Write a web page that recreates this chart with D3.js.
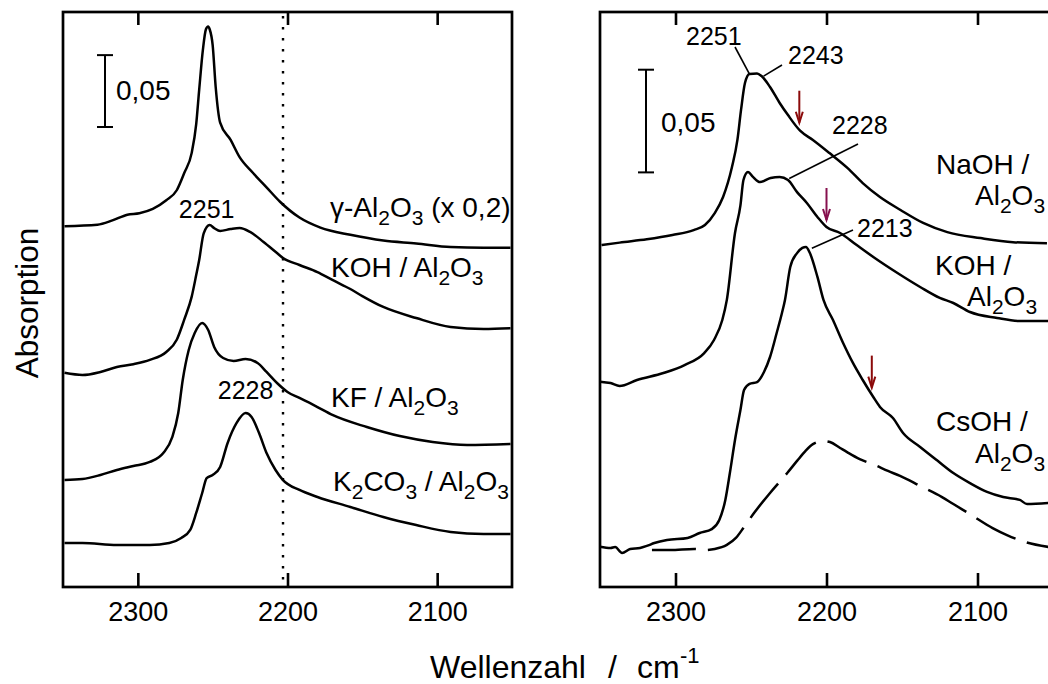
<!DOCTYPE html>
<html>
<head>
<meta charset="utf-8">
<script src="https://cdn.jsdelivr.net/npm/d3@7"></script>
<style>
  body { margin: 0; background: #fff; }
  text { font-family: "Liberation Sans", Arial, Helvetica, sans-serif; fill: #000; }
</style>
</head>
<body>
<svg id="chart" width="1048" height="684"></svg>
<script>
// Wavenumber axis (cm^-1), shared by both panels
const wavenumberDomain = [2350, 2050];
const tickValues = [2300, 2200, 2100];
const tickLabels = ["2300", "2200", "2100"];

// ---- Left panel: CO adsorbed on K-modified Al2O3, stacked spectra [wavenumber, absorbance]
const gammaAl2O3 = [
  [2349, 0.251], [2327, 0.252], [2317, 0.255], [2307, 0.259], [2299, 0.260], [2290, 0.263],
  [2281, 0.269], [2274, 0.276], [2269, 0.288], [2264, 0.302], [2261, 0.322], [2259, 0.346],
  [2256.5, 0.374], [2254.5, 0.388], [2253, 0.390], [2252, 0.388], [2250, 0.377], [2248, 0.348],
  [2245, 0.323], [2238, 0.311], [2232, 0.299], [2223, 0.288], [2214, 0.278], [2205, 0.268],
  [2192, 0.257], [2178, 0.250], [2158, 0.245], [2136, 0.241], [2114, 0.239], [2091, 0.2365],
  [2069, 0.236], [2051, 0.236]
];
const kohLeft = [
  [2349, 0.149], [2337, 0.1475], [2325, 0.1496], [2314, 0.153], [2303, 0.155], [2292, 0.158],
  [2281, 0.1635], [2274, 0.172], [2269, 0.186], [2264, 0.202], [2261, 0.217], [2259, 0.2275],
  [2256, 0.246], [2252, 0.2518], [2249, 0.2497], [2245, 0.2477], [2238, 0.249], [2232, 0.2497],
  [2225, 0.247], [2216, 0.240], [2207, 0.2323], [2203, 0.2289], [2192, 0.224], [2180, 0.2191],
  [2170, 0.2136], [2158, 0.2073], [2150, 0.2024], [2136, 0.1948], [2114, 0.1871], [2091, 0.1809],
  [2069, 0.1795], [2051, 0.180]
];
const kfAl2O3 = [
  [2349, 0.0744], [2337, 0.0751], [2325, 0.0779], [2314, 0.0814], [2303, 0.0842], [2292, 0.087],
  [2283, 0.0932], [2277, 0.1043], [2273, 0.121], [2270, 0.144], [2266, 0.1649], [2262, 0.1767],
  [2257, 0.1837], [2253, 0.1788], [2249, 0.167], [2243, 0.1593], [2236, 0.1572], [2228, 0.1586],
  [2220, 0.1558], [2214, 0.1496], [2207, 0.1419], [2200, 0.1357], [2192, 0.1315], [2180, 0.1252],
  [2170, 0.1197], [2147, 0.1113], [2125, 0.105], [2103, 0.1009], [2080, 0.0988], [2051, 0.0995]
];
const k2co3Al2O3 = [
  [2349, 0.0306], [2337, 0.0306], [2314, 0.0292], [2292, 0.0292], [2279, 0.0306], [2271, 0.0341],
  [2265, 0.0397], [2261, 0.0515], [2257, 0.0654], [2254, 0.0758], [2250, 0.0779], [2245, 0.0835],
  [2240, 0.1002], [2234, 0.1141], [2228, 0.121], [2224, 0.1183], [2219, 0.1071], [2214, 0.0932],
  [2208, 0.0814], [2203, 0.0744], [2192, 0.0675], [2180, 0.0626], [2158, 0.0557], [2136, 0.0487],
  [2114, 0.0431], [2091, 0.0383], [2069, 0.0369], [2051, 0.0369]
];

// ---- Right panel: CO on alkali hydroxide / Al2O3 [wavenumber, absorbance]
const naohAl2O3 = [
  [2349, 0.1665], [2337, 0.1677], [2319, 0.1693], [2302, 0.1714], [2288, 0.1738], [2280.5, 0.1763],
  [2274, 0.1821], [2268.5, 0.1899], [2262.6, 0.2045], [2259, 0.2177], [2256.6, 0.2323], [2254, 0.2454],
  [2251, 0.2498], [2246, 0.2501], [2243, 0.2488], [2237.4, 0.2435], [2231, 0.2357], [2225.5, 0.2298],
  [2217.5, 0.2222], [2209, 0.2177], [2198, 0.2113], [2186, 0.204], [2176, 0.1967], [2164.6, 0.1899],
  [2151, 0.1836], [2136, 0.1773], [2120, 0.1728], [2098, 0.1699], [2076.5, 0.1679], [2054, 0.1674]
];
const kohRight = [
  [2350, 0.100], [2343, 0.0993], [2337, 0.0979], [2325.5, 0.1008], [2308, 0.1042], [2294, 0.1081],
  [2281, 0.1139], [2274.5, 0.1203], [2269, 0.130], [2266, 0.1398], [2260.6, 0.1724], [2257, 0.1858],
  [2255, 0.1982], [2252, 0.2021], [2248.7, 0.1997], [2244, 0.1972], [2237, 0.1992], [2231, 0.1997],
  [2225.5, 0.1982], [2219.5, 0.1923], [2213, 0.187], [2206, 0.1802], [2200, 0.1753], [2191, 0.1724],
  [2180, 0.1665], [2169, 0.1607], [2153, 0.1529], [2138, 0.1461], [2125, 0.1408], [2116, 0.1383],
  [2105, 0.1339], [2087, 0.131], [2072, 0.1295], [2053, 0.1295]
];
const csohAl2O3 = [
  [2350, 0.0196], [2343, 0.019], [2340, 0.0195], [2335.4, 0.0166], [2330, 0.0185], [2323.5, 0.019],
  [2319, 0.020], [2314, 0.0214], [2305.6, 0.0229], [2292, 0.0239], [2284, 0.0263], [2276, 0.0282],
  [2271, 0.0326], [2267, 0.0424], [2264, 0.0555], [2260.6, 0.0716], [2257, 0.0862], [2254.6, 0.0959],
  [2251, 0.0989], [2246, 0.0998], [2241.4, 0.1047], [2237.4, 0.112], [2233, 0.1237], [2229.5, 0.1334],
  [2227.5, 0.1398], [2224, 0.1558], [2219.5, 0.1626], [2216, 0.1651], [2213.6, 0.1656], [2211, 0.1626],
  [2206, 0.151], [2202, 0.1398], [2195.7, 0.130], [2189, 0.1188], [2182.5, 0.1091], [2176, 0.1008],
  [2169, 0.0925], [2164.6, 0.0877], [2156, 0.0823], [2149.3, 0.075], [2138, 0.0682], [2127, 0.0618],
  [2116, 0.0555], [2105, 0.0506], [2093.7, 0.0463], [2083, 0.0438], [2072, 0.0424], [2067.2, 0.0404],
  [2053, 0.0409]
];
const referenceDashed = [
  [2315.6, 0.018], [2303.6, 0.018], [2287.7, 0.0185], [2280.5, 0.018], [2274, 0.0185], [2266, 0.0205],
  [2260, 0.0239], [2254.6, 0.0292], [2248, 0.036], [2237.4, 0.0458], [2226, 0.0555], [2219.5, 0.0614],
  [2214, 0.0662], [2209, 0.0696], [2202.3, 0.0711], [2197.7, 0.0706], [2191, 0.0677], [2186.4, 0.0657],
  [2178, 0.0623], [2168, 0.0594], [2159.3, 0.0565], [2151.3, 0.0541], [2138, 0.0492], [2123.5, 0.0438],
  [2116, 0.0404], [2105, 0.0355], [2090, 0.0287], [2080.5, 0.0253], [2068.5, 0.0219], [2053, 0.0195]
];

// Peak positions (cm^-1) named in the annotations
const leftPeaks = [2251, 2228];
const rightPeaks = [2251, 2243, 2228, 2213];
const dottedLineWavenumber = 2203;
// Arrow markers on the right panel spectra (cm^-1)
const arrowWavenumbers = [2218, 2200, 2170];
const scaleBarValue = 0.05;

// ---------------------------------------------------------------------------
const svg = d3.select("#chart");
const FONT = 28;
const PEAK_FONT = 25;
const SUB = 21;

const panels = {
  left:  { x0: 63,  x1: 512,  y0: 12, y1: 587, yMax: 0.40 },
  right: { x0: 600, x1: 1053, y0: 12, y1: 587, yMax: 0.28 }
};

function makeScales(p) {
  return {
    x: d3.scaleLinear().domain(wavenumberDomain).range([p.x0, p.x1]),
    y: d3.scaleLinear().domain([0, p.yMax]).range([p.y1, p.y0])
  };
}
const L = makeScales(panels.left);
const R = makeScales(panels.right);

// text with "_d" subscripts, e.g. "Al_2O_3"
function richText(g, str, x, y, opts = {}) {
  const t = g.append("text").attr("x", x).attr("y", y)
    .attr("font-size", opts.size || FONT)
    .attr("text-anchor", opts.anchor || "start")
    .style("white-space", "pre");
  const parts = str.split(/(_\d)/).filter(s => s.length);
  let lowered = false;
  parts.forEach(s => {
    if (s[0] === "_") {
      t.append("tspan").text(s.slice(1)).attr("font-size", SUB).attr("dy", lowered ? 0 : 8);
      lowered = true;
    } else {
      const ts = t.append("tspan").text(s);
      if (lowered) { ts.attr("dy", -8); lowered = false; }
    }
  });
  return t;
}

function drawFrame(p, s) {
  const g = svg.append("g");
  g.append("g").attr("transform", `translate(0,${p.y1})`)
    .call(d3.axisBottom(s.x).tickValues(tickValues).tickSize(-14).tickPadding(15)
      .tickFormat((d, i) => tickLabels[i]))
    .call(a => a.select(".domain").remove())
    .call(a => a.selectAll(".tick line").attr("stroke", "#000").attr("stroke-width", 2.6))
    .call(a => a.selectAll(".tick text").attr("font-size", 27)
      .attr("font-family", '"Liberation Sans", Arial, sans-serif').attr("fill", "#000"));
  g.append("g").attr("transform", `translate(0,${p.y0})`)
    .call(d3.axisTop(s.x).tickValues(tickValues).tickSize(-13).tickFormat(""))
    .call(a => a.select(".domain").remove())
    .call(a => a.selectAll(".tick line").attr("stroke", "#000").attr("stroke-width", 2.6));
  g.append("rect").attr("x", p.x0).attr("y", p.y0)
    .attr("width", p.x1 - p.x0).attr("height", p.y1 - p.y0)
    .attr("fill", "none").attr("stroke", "#000").attr("stroke-width", 2.7);
}

function drawSpectrum(s, data, dash) {
  const line = d3.line().x(d => s.x(d[0])).y(d => s.y(d[1])).curve(d3.curveMonotoneX);
  const path = svg.append("path").datum(data).attr("d", line)
    .attr("fill", "none").attr("stroke", "#000").attr("stroke-width", 2.5)
    .attr("stroke-linejoin", "round");
  if (dash) path.attr("stroke-dasharray", dash);
  return path;
}

function valueAt(data, w) {
  for (let i = 0; i < data.length - 1; i++) {
    const a = data[i], b = data[i + 1];
    if (w <= a[0] && w >= b[0]) {
      const t = (a[0] - w) / (a[0] - b[0]);
      return a[1] + t * (b[1] - a[1]);
    }
  }
  return data[data.length - 1][1];
}

function scaleBar(s, x, base, labelX, labelY) {
  const yTop = s.y(base + scaleBarValue), yBot = s.y(base);
  const g = svg.append("g").attr("stroke", "#000").attr("stroke-width", 2);
  g.append("line").attr("x1", x).attr("x2", x).attr("y1", yTop).attr("y2", yBot);
  g.append("line").attr("x1", x - 8).attr("x2", x + 8).attr("y1", yTop).attr("y2", yTop);
  g.append("line").attr("x1", x - 8).attr("x2", x + 8).attr("y1", yBot).attr("y2", yBot);
  richText(svg, "0,05", labelX, labelY);
}

// ---------------- Left panel
drawFrame(panels.left, L);
svg.append("line")
  .attr("x1", L.x(dottedLineWavenumber)).attr("x2", L.x(dottedLineWavenumber))
  .attr("y1", panels.left.y0 + 4).attr("y2", panels.left.y1)
  .attr("stroke", "#000").attr("stroke-width", 2.4).attr("stroke-dasharray", "2.4,8.6");
[gammaAl2O3, kohLeft, kfAl2O3, k2co3Al2O3].forEach(d => drawSpectrum(L, d));
scaleBar(L, 105, 0.32, 116, 100);

richText(svg, "γ-Al_2O_3 (x 0,2)", 330, 217);
richText(svg, "KOH / Al_2O_3", 331, 277);
richText(svg, "KF / Al_2O_3", 331, 407);
richText(svg, "K_2CO_3 / Al_2O_3", 333, 491);
richText(svg, String(leftPeaks[0]), L.x(leftPeaks[0]) - 4.5, 218, { anchor: "middle", size: PEAK_FONT });
richText(svg, String(leftPeaks[1]), L.x(leftPeaks[1]), 399, { anchor: "middle", size: PEAK_FONT });

// ---------------- Right panel
drawFrame(panels.right, R);
[naohAl2O3, kohRight, csohAl2O3].forEach(d => drawSpectrum(R, d));
drawSpectrum(R, referenceDashed, "44,12");
scaleBar(R, 646, 0.2019, 661, 132);

// peak annotations with leader lines
const leaders = [
  { w: rightPeaks[0], data: naohAl2O3, tx: 686, ty: 45, lx: 735, ly: 47, off: 0 },
  { w: rightPeaks[1], data: naohAl2O3, tx: 788, ty: 64, lx: 782, ly: 65, off: 2 },
  { w: rightPeaks[2], data: kohRight,  tx: 832, ty: 134, lx: 858, ly: 144, off: 5 },
  { w: rightPeaks[3], data: csohAl2O3, tx: 857, ty: 237, lx: 853, ly: 230, off: 5 }
];
leaders.forEach(d => {
  const px = R.x(d.w) + d.off;
  const py = R.y(valueAt(d.data, d.w));
  svg.append("line").attr("x1", px).attr("y1", py).attr("x2", d.lx).attr("y2", d.ly)
    .attr("stroke", "#000").attr("stroke-width", 1.6);
  richText(svg, String(d.w), d.tx, d.ty, { size: PEAK_FONT });
});

// arrows
const arrowColors = ["#8b0a0a", "#86104e", "#8b0a0a"];
[naohAl2O3, kohRight, csohAl2O3].forEach((data, i) => {
  const w = arrowWavenumbers[i];
  const x = R.x(w);
  const tip = R.y(valueAt(data, w)) - 7;
  const g = svg.append("g").attr("stroke", arrowColors[i]).attr("fill", "none")
    .attr("stroke-width", 2).attr("stroke-linejoin", "miter");
  g.append("line").attr("x1", x).attr("x2", x).attr("y1", tip - 32).attr("y2", tip);
  g.append("path").attr("d", `M${x - 3.5},${tip - 11} L${x},${tip} L${x + 3.5},${tip - 11}`);
});

richText(svg, "NaOH /", 936, 174);
richText(svg, "Al_2O_3", 975, 205);
richText(svg, "KOH /", 935, 275);
richText(svg, "Al_2O_3", 967, 306);
richText(svg, "CsOH /", 936, 431);
richText(svg, "Al_2O_3", 975, 463);

// ---------------- Axis titles
svg.append("text").attr("transform", "translate(38,303) rotate(-90)")
  .attr("text-anchor", "middle").attr("font-size", 31.5).text("Absorption");
const xt = svg.append("text").attr("y", 678).attr("font-size", 32);
xt.append("tspan").attr("x", 430).text("Wellenzahl");
xt.append("tspan").attr("x", 608).text("/");
xt.append("tspan").attr("x", 637).text("cm");
xt.append("tspan").attr("x", 680).attr("dy", -15).attr("font-size", 22).text("-1");
</script>
</body>
</html>
